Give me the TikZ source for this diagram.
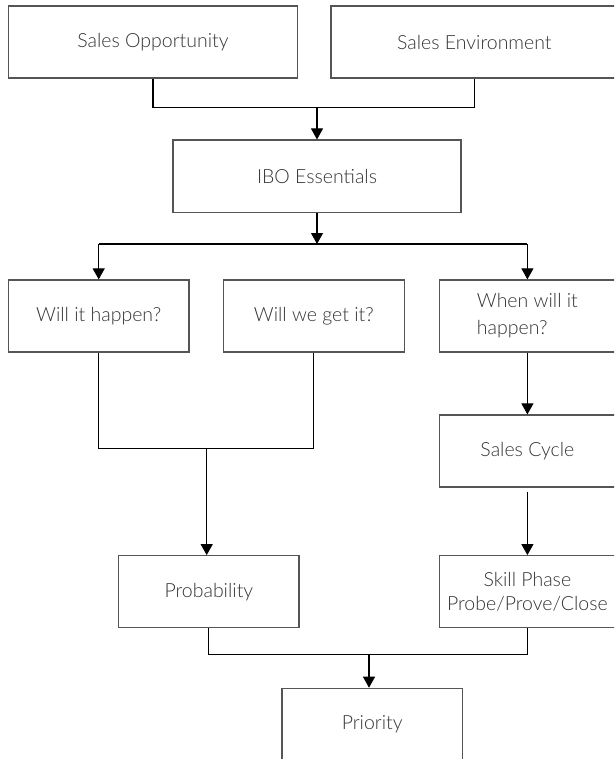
\documentclass[tikz,border=0pt]{standalone}
\usepackage{fontspec}
\setmainfont{Lato}[UprightFont={* Light}]
\usetikzlibrary{arrows.meta,calc}
\definecolor{boxline}{HTML}{555555}
\definecolor{txt}{HTML}{333333}
\begin{document}
\begin{tikzpicture}[x=1pt,y=1pt,
  box/.style={draw=boxline,line width=1.2pt,rectangle,inner sep=0pt,
    font=\fontsize{19.5}{24}\selectfont,text=txt},
  conn/.style={draw=black,line width=1.1pt},
  arr/.style={conn,-{Triangle[width=12pt,length=11pt]}}]
\useasboundingbox (0,0) rectangle (614,-759);
\clip (0,0) rectangle (614,-759);
% nodes
\node[box,minimum width=289.7pt,minimum height=72pt] (SO) at (153,-42) {Sales Opportunity};
\node[box,minimum width=286.6pt,minimum height=72pt] (SE) at (474.3,-42) {Sales Environment};
\node[box,minimum width=288pt,minimum height=72.3pt] (IBO) at (317,-176.2) {IBO Essentials};
\node[box,minimum width=180.7pt,minimum height=72pt] (WIH) at (98.7,-316) {Will it happen?};
\node[box,minimum width=181pt,minimum height=72pt] (WWG) at (313.8,-316) {Will we get it?};
\node[box,minimum width=176.2pt,minimum height=72pt,align=left,
  font=\fontsize{19.5}{27}\selectfont] (WHEN) at (527.4,-316) {When will it\\happen?};
\node[box,minimum width=176.2pt,minimum height=72pt] (SC) at (527.4,-451) {Sales Cycle};
\node[box,minimum width=180.3pt,minimum height=72pt] (PROB) at (208.85,-591.7) {Probability};
\node[box,minimum width=176.2pt,minimum height=72pt,align=center,
  font=\fontsize{19.5}{24}\selectfont] (SK) at (527.4,-591.7) {Skill Phase\\Probe/Prove/Close};
\node[box,minimum width=180.4pt,minimum height=72pt] (PR) at (372.2,-724.3) {Priority};
% junctions
\coordinate (j1) at (317,-107.7);
\coordinate (j2) at (317,-244);
\coordinate (j3) at (206.7,-448.3);
\coordinate (j4) at (369,-654.3);
% connectors
\draw[conn] (SO.south) |- (j1) -| (SE.south);
\draw[arr] (j1) -- (IBO.north);
\draw[arr] (IBO.south) -- (j2);
\draw[conn] (WIH.north |- j2) -- (j2) -- (WHEN.north |- j2);
\draw[arr] (WIH.north |- j2) -- (WIH.north);
\draw[arr] (WHEN.north |- j2) -- (WHEN.north);
\draw[conn] (WIH.south) |- (j3) -| (WWG.south);
\draw[arr] (j3) -- (j3 |- PROB.north);
\draw[arr] (WHEN.south) -- (SC.north);
\draw[arr] ([yshift=-4pt]SC.south) -- (SK.north);
\draw[conn] (PROB.south) |- (j4) -| (SK.south);
\draw[arr] (j4) -- (j4 |- PR.north);
\end{tikzpicture}
\end{document}
